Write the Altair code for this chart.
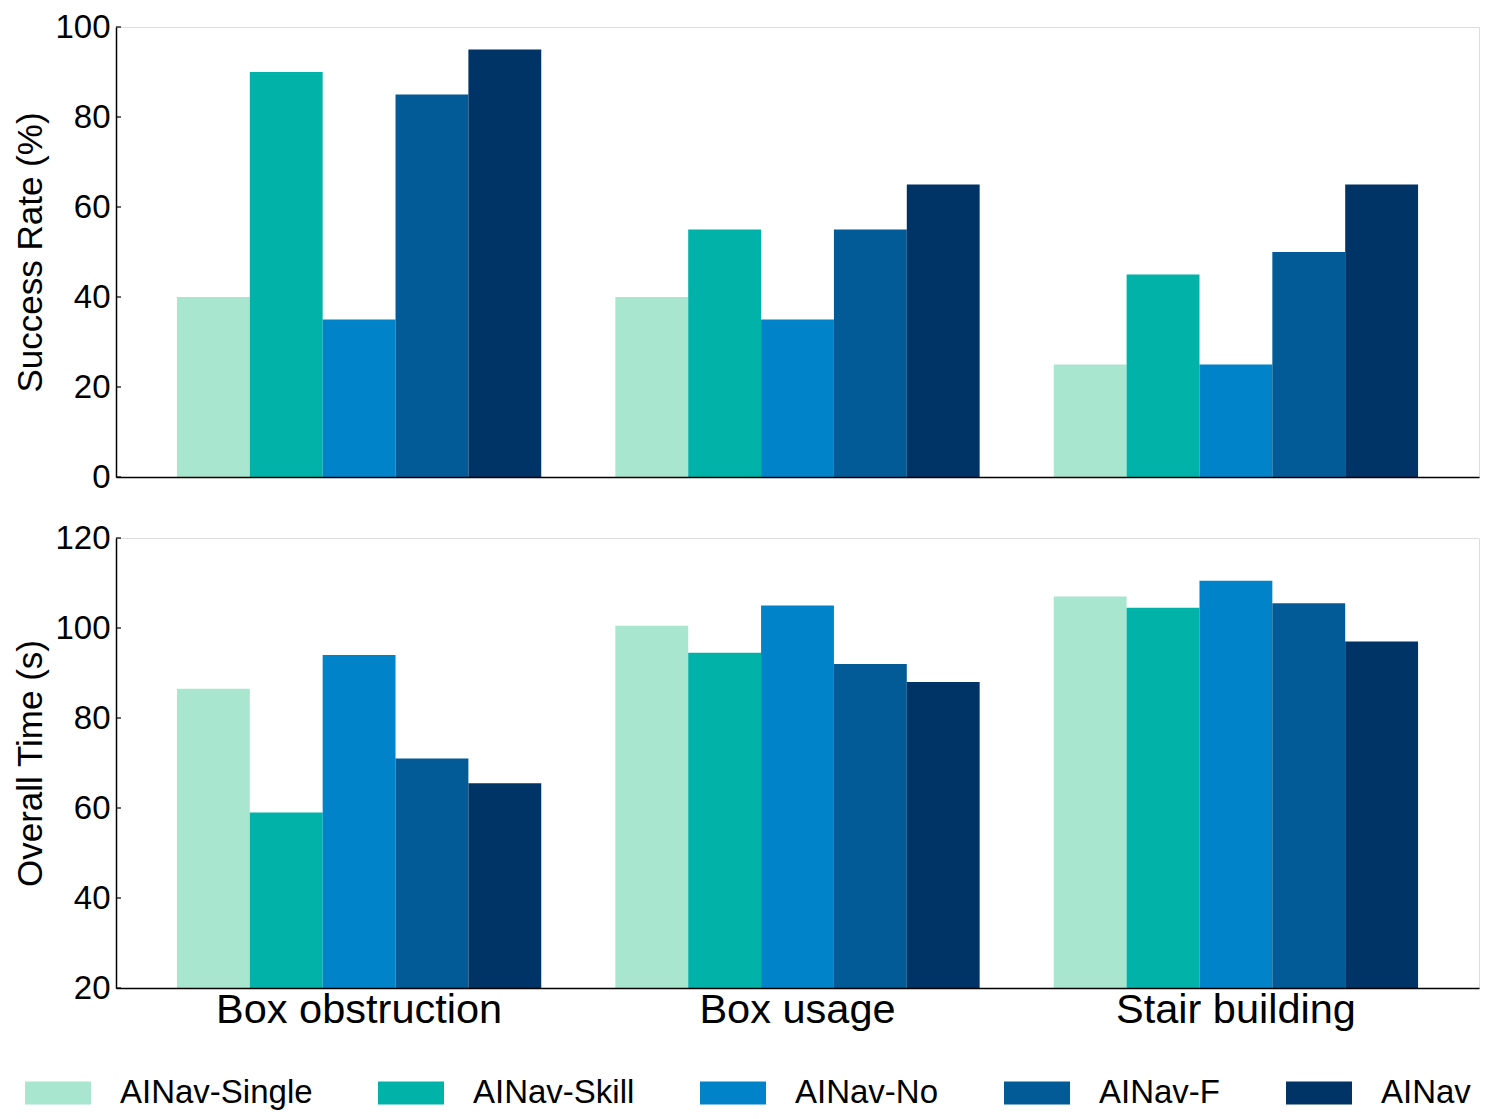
import altair as alt
import pandas as pd

tasks = ["Box obstruction", "Box usage", "Stair building"]
methods = ["AINav-Single", "AINav-Skill", "AINav-No", "AINav-F", "AINav"]
colors = ["#a8e6cf", "#00b2a7", "#0083c8", "#025b97", "#003366"]

success_rate = {
    "AINav-Single": [40, 40, 25],
    "AINav-Skill": [90, 55, 45],
    "AINav-No": [35, 35, 25],
    "AINav-F": [85, 55, 50],
    "AINav": [95, 65, 65],
}
overall_time = {
    "AINav-Single": [86.5, 100.5, 107],
    "AINav-Skill": [59, 94.5, 104.5],
    "AINav-No": [94, 105, 110.5],
    "AINav-F": [71, 92, 105.5],
    "AINav": [65.5, 88, 97],
}
rate_ticks = [0, 20, 40, 60, 80, 100]
time_ticks = [20, 40, 60, 80, 100, 120]

rows = []
for m in methods:
    for i, t in enumerate(tasks):
        rows.append({"task": t, "method": m, "rate": success_rate[m][i], "time": overall_time[m][i]})
df = pd.DataFrame(rows)

FONT = "Liberation Sans"
W, H = 1363, 450

xscale = alt.Scale(domain=tasks, paddingInner=0.169, paddingOuter=0.139)
color = alt.Color(
    "method:N",
    sort=methods,
    scale=alt.Scale(domain=methods, range=colors),
    legend=alt.Legend(
        title=None,
        orient="none",
        direction="horizontal",
        columns=5,
        legendX=-91,
        legendY=1033,
        symbolType="M-1,-0.35L1,-0.35L1,0.35L-1,0.35Z",
        symbolSize=4356,
        symbolStrokeWidth=0,
        labelFont=FONT,
        labelFontSize=33,
        labelColor="black",
        labelOffset=29,
        columnPadding=65,
        labelLimit=400,
    ),
)
xoff = alt.XOffset("method:N", sort=methods, scale=alt.Scale(domain=methods, paddingInner=0, paddingOuter=0))


def panel(field, title, ticks, show_x):
    ydom = [ticks[0], ticks[-1]]
    yscale = alt.Scale(domain=ydom, nice=False, zero=False)
    if show_x:
        xaxis = alt.Axis(title=None, ticks=False, labelFont=FONT, labelFontSize=41.5, labelColor="black",
                         labelPadding=1, domainColor="black", domainWidth=1.5, labelAngle=0,
                         labelLimit=600, zindex=1)
    else:
        xaxis = alt.Axis(title=None, ticks=False, labels=False, domainColor="black", domainWidth=1.5, zindex=1)
    bars = alt.Chart(df).mark_bar(clip=True).encode(
        x=alt.X("task:N", sort=tasks, scale=xscale, axis=xaxis),
        xOffset=xoff,
        y=alt.Y(f"{field}:Q", scale=yscale,
                axis=alt.Axis(title=title, values=ticks, ticks=False, grid=False, labelFont=FONT,
                              labelFontSize=33, labelColor="black", labelPadding=6, titleFont=FONT,
                              titleFontSize=35, titleFontWeight="normal", titleColor="black",
                              titlePadding=6, domainColor="black", domainWidth=1.5, zindex=1)),
        y2=alt.datum(ticks[0]),
        color=color,
    )
    tdf = pd.DataFrame({"v": ticks})
    tk = alt.Chart(tdf).mark_rule(color="black", strokeWidth=1.2).encode(
        y=alt.Y("v:Q", scale=yscale),
        x=alt.value(0),
        x2=alt.value(5),
    )
    return alt.layer(bars, tk).properties(width=W, height=H)


top = panel("rate", "Success Rate (%)", rate_ticks, False)
bottom = panel("time", "Overall Time (s)", time_ticks, True)

chart = alt.vconcat(top, bottom, spacing=26).properties(
    padding={"top": 2, "left": 5, "right": 5, "bottom": 5}
).configure_view(
    stroke="#777777", strokeWidth=2
).configure(background="white")

chart.save("out.html", embed_options={"renderer": "svg", "actions": False})
